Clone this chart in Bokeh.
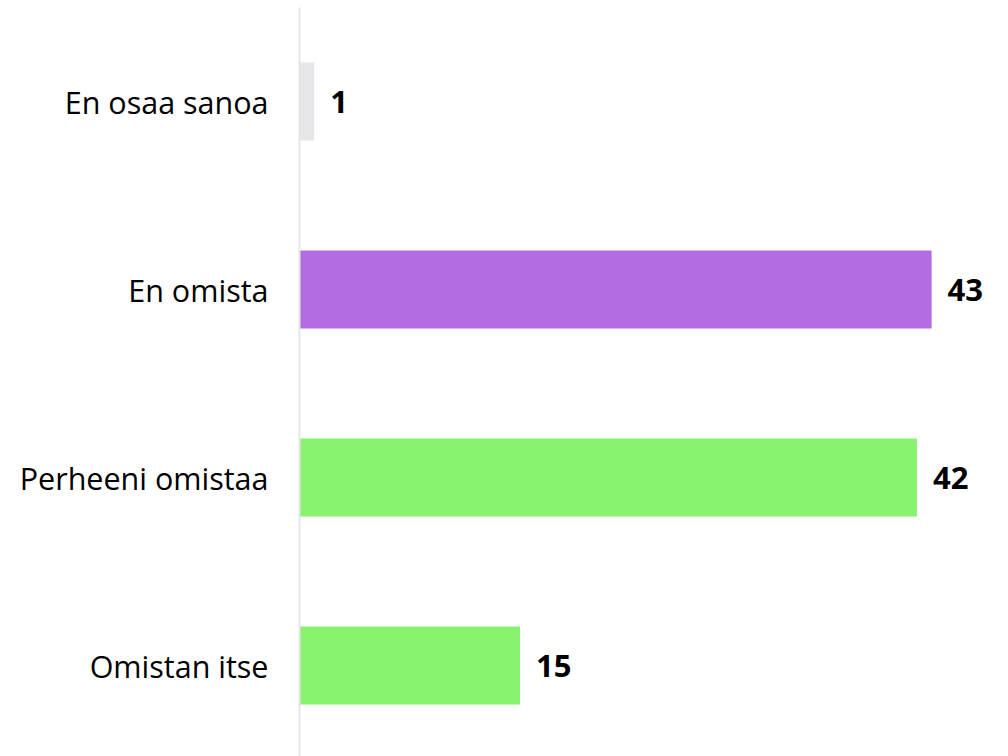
from bokeh.plotting import figure
from bokeh.models import ColumnDataSource, Range1d, FixedTicker
from bokeh.core.properties import value
from bokeh.embed import file_html
from bokeh.resources import INLINE

categories = ["Omistan itse", "Perheeni omistaa", "En omista", "En osaa sanoa"]
values = [15, 42, 43, 1]
colors = ["#88f26e", "#88f26e", "#b36ce2", "#e6e6e8"]

pos = list(range(len(categories)))
src = ColumnDataSource(dict(y=pos, v=values, c=colors, lab=[str(v) for v in values]))

p = figure(width=1008, height=756, output_backend="svg", toolbar_location=None,
           x_range=Range1d(0, 48.23), y_range=Range1d(-0.484, 3.5),
           min_border_left=299, min_border_right=0, min_border_top=7, min_border_bottom=0)
p.outline_line_color = None
p.background_fill_color = "white"
p.border_fill_color = "white"
p.xgrid.visible = False
p.ygrid.visible = False
p.xaxis.visible = False

p.hbar(y="y", right="v", left=0, height=0.415, color="c", source=src, line_color=None)
p.text(x="v", y="y", text="lab", source=src, x_offset=16, text_baseline="middle",
       text_align="left", text_font=value("Open Sans"), text_font_style="bold",
       text_font_size="31px", text_color="#000000")

ax = p.yaxis[0]
ax.ticker = FixedTicker(ticks=pos)
ax.major_label_overrides = {i: c for i, c in zip(pos, categories)}
ax.major_tick_line_color = None
ax.minor_tick_line_color = None
ax.axis_line_color = "#e6e6e8"
ax.axis_line_width = 2
ax.major_label_standoff = 25
ax.major_label_text_font = "Open Sans"
ax.major_label_text_font_size = "30.5px"
ax.major_label_text_color = "#000000"

open("out.html", "w").write(file_html(p, INLINE))
